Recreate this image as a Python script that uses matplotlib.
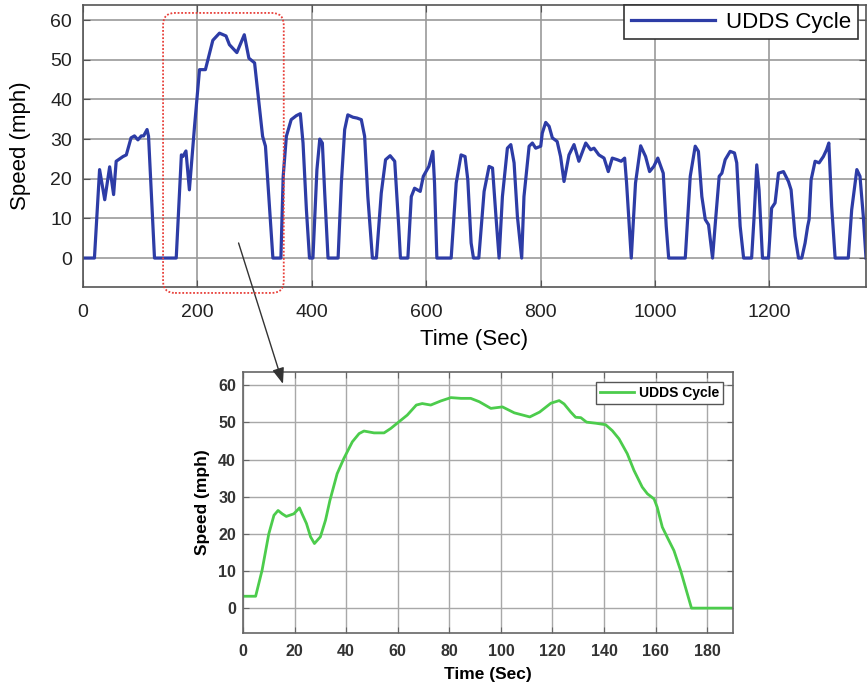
import matplotlib
matplotlib.use('Agg')
import matplotlib.pyplot as plt
from matplotlib.patches import FancyBboxPatch, ConnectionPatch

plt.rcParams['font.family'] = ['Liberation Sans', 'DejaVu Sans']

# full UDDS cycle
cycle_time = [0, 20, 29, 38, 46.6, 53.5, 58, 70, 75.7, 84, 90, 96, 102, 106, 112, 114.6, 125,
              163, 172, 174.6, 180, 186, 195, 203.7, 214, 227, 238.6, 250, 256, 269, 282, 290,
              300, 314, 319, 332, 346, 350, 355.6, 364, 373, 380, 384.7, 390.6, 396, 402, 409,
              414, 418.5, 422.6, 428.4, 446, 451.7, 457.5, 463, 472, 479, 486.6, 492.4, 498,
              506, 513, 521.5, 529, 537, 545, 552, 555, 568, 574, 579.7, 589.6, 595, 604.7,
              611.7, 614.6, 618.7, 643.7, 652.5, 661, 668, 672.8, 678.6, 682.7, 692, 701.3,
              710, 716, 722, 727.5, 733.3, 742, 748, 753.7, 759.5, 767, 771, 780, 785.7, 791.5,
              800.3, 803, 809, 815, 820.6, 829, 835, 841, 849.7, 858.5, 867, 879, 887.6, 893.4,
              902, 911, 918.4, 925.4, 934, 941, 947, 950.4, 958.6, 966, 975, 983.6, 990.6, 998,
              1005, 1014.5, 1019.7, 1024, 1053, 1061.7, 1070.4, 1076, 1082, 1088, 1093.7,
              1100.7, 1106.5, 1112.3, 1117, 1122.8, 1131.5, 1139, 1143, 1149, 1155, 1169,
              1173.4, 1178, 1182, 1188, 1198.5, 1204, 1210, 1216, 1224.7, 1233.4, 1238, 1245,
              1251, 1256.7, 1262.5, 1267, 1269.5, 1273, 1280, 1287, 1294.5, 1300, 1304, 1309,
              1315, 1338, 1344, 1353, 1358.5, 1364.3, 1369]
cycle_speed = [0, 0, 22.3, 14.7, 23, 16, 24.4, 25.6, 26, 30.3, 30.8, 29.8, 30.8, 30.8, 32.4, 30.7, 0,
               0, 26, 25.6, 27, 17.2, 33.2, 47.5, 47.5, 54.9, 56.7, 56, 53.8, 51.8, 56.3, 50.4,
               49.2, 30.7, 28.2, 0, 0, 20.6, 30.7, 34.9, 35.9, 36.4, 29, 12.2, 0, 0, 22.3,
               30, 29, 16.4, 0, 0, 18.9, 32.4, 36.1, 35.5, 35.3, 34.9, 30.7, 15.5,
               0, 0, 16.4, 24.8, 25.8, 24.4, 8, 0, 0, 15.5, 17.6, 16.8, 20.6, 23.1,
               26.9, 18.9, 0, 0, 18.9, 26, 25.6, 19.7, 3.8, 0, 0, 16.8,
               23.1, 22.7, 10.5, 0, 15.5, 27.7, 28.6, 24, 10.5, 0, 15.5, 28.2, 29, 27.7,
               28.2, 31.5, 34.2, 33.2, 30.3, 29.4, 25.6, 19.3, 26, 28.6, 24.4, 29, 27.3, 27.7,
               26, 25.2, 21.8, 25.2, 24.8, 24.4, 25.2, 18.9, 0, 18.9, 28.3, 25.6, 21.8, 23.1,
               25.2, 21.4, 8, 0, 0, 20.6, 28.2, 26.9, 15.5, 9.7, 8.4,
               0, 10.5, 20.6, 21.4, 24.8, 26.9, 26.5, 24, 8, 0, 0,
               10.5, 23.5, 17.2, 0, 0, 12.6, 13.9, 21.4, 21.8, 19.3, 17.2, 5.5,
               0, 0, 3.8, 8, 9.7, 19.7, 24.4, 24, 25.6, 27.3, 29, 13,
               0, 0, 12.2, 22.3, 20.6, 10.5, 0]

# zoomed segment (second hill)
zoom_time = [0, 4.9, 7.4, 10, 12, 13.6, 15.2, 16.8, 19.7, 21.9, 22.9, 24.6, 26.2, 27.7, 30, 32,
             33.7, 36.5, 39.1, 42.4, 45, 46.9, 50.8, 54.7, 57.3, 60.5, 63.7, 67.2, 69.5, 72.8,
             76.7, 80.6, 84.5, 88.3, 91.6, 96.1, 100.6, 105.2, 111.2, 115, 119.4, 122.6,
             124.5, 127.1, 129, 131, 133.2, 136.8, 140.6, 143.2, 145.8, 149, 151.6, 154.8,
             156.8, 159.4, 160.6, 162.6, 164.5, 167.1, 169.7, 171.9, 173.9, 190]
zoom_speed = [3.2, 3.2, 10.2, 20, 25, 26.3, 25.4, 24.7, 25.4, 27, 25.4, 22.8, 19.2, 17.4, 19.2, 23.7,
              29, 36.2, 40.3, 44.8, 47, 47.7, 47.2, 47.2, 48.4, 50.2, 52, 54.7, 55.1, 54.7,
              55.8, 56.7, 56.5, 56.5, 55.6, 53.8, 54.2, 52.6, 51.5, 52.8, 55.2, 55.9,
              55, 52.8, 51.4, 51.3, 50.1, 49.8, 49.4, 47.8, 45.6, 41.6, 37.1, 32.6,
              30.8, 29.4, 27.2, 21.8, 19.1, 15.5, 10.1, 4.8, 0, 0]

W, H = 867, 687
fig = plt.figure(figsize=(W / 100, H / 100), dpi=100)

# top chart
ax1 = fig.add_axes([83 / W, 1 - 287 / H, 783 / W, 282 / H])
ax1.plot(cycle_time, cycle_speed, color='#2d3ca6', lw=2.3, label='UDDS Cycle')
ax1.set_xlim(0, 1369)
ax1.set_ylim(-7.3, 63.8)
ax1.set_xticks(range(0, 1201, 200))
ax1.set_yticks(range(0, 61, 10))
ax1.grid(True, color='#9a9a9a', lw=1.2)
ax1.set_axisbelow(True)
ax1.tick_params(direction='in', top=True, right=True, length=5, labelsize=14,
                labelcolor='#222222', color='#555555')
ax1.tick_params(axis='x', pad=12)
ax1.tick_params(axis='y', pad=8)
for s in ax1.spines.values():
    s.set_color('#555555')
    s.set_linewidth(1.2)
ax1.set_xlabel('Time (Sec)', fontsize=16, labelpad=6)
ax1.set_ylabel('Speed (mph)', fontsize=16, labelpad=14)
leg1 = ax1.legend(loc='upper right', bbox_to_anchor=(1 - 8 / 783, 1.0), borderaxespad=0,
                  fontsize=16, handlelength=3.8, fancybox=False, framealpha=1,
                  borderpad=0.3, handletextpad=0.5)
leg1.get_frame().set_edgecolor('#333333')
leg1.get_frame().set_linewidth(1.2)

# bottom (zoomed) chart
ax2 = fig.add_axes([243 / W, 1 - 633 / H, 490 / W, 261 / H])
ax2.plot(zoom_time, zoom_speed, color='#4ccc4c', lw=2, label='UDDS Cycle')
ax2.set_xlim(0, 190)
ax2.set_ylim(-6.7, 63.6)
ax2.set_xticks(range(0, 181, 20))
ax2.set_yticks(range(0, 61, 10))
ax2.grid(True, color='#a8a8a8', lw=1)
ax2.set_axisbelow(True)
ax2.tick_params(direction='in', top=True, right=True, length=4, labelsize=11.5,
                labelcolor='#333333', color='#666666')
ax2.tick_params(axis='x', pad=8)
ax2.tick_params(axis='y', pad=5)
for lab in ax2.get_xticklabels() + ax2.get_yticklabels():
    lab.set_fontweight('bold')
for s in ax2.spines.values():
    s.set_color('#666666')
    s.set_linewidth(1.2)
ax2.set_xlabel('Time (Sec)', fontsize=12.5, fontweight='bold', labelpad=6)
ax2.set_ylabel('Speed (mph)', fontsize=12.5, fontweight='bold', labelpad=6)
leg2 = ax2.legend(loc='upper right', bbox_to_anchor=(1 - 10 / 490, 1 - 10 / 261), borderaxespad=0,
                  prop={'size': 10, 'weight': 'bold'}, handlelength=2.5, fancybox=False,
                  framealpha=1, borderpad=0.3, handletextpad=0.3)
leg2.get_frame().set_edgecolor('#555555')
leg2.get_frame().set_linewidth(1)

# dotted rounded box marking the zoomed window, drawn in pixel space
ov = fig.add_axes([0, 0, 1, 1], zorder=5)
ov.set_xlim(0, W)
ov.set_ylim(0, H)
ov.axis('off')
ov.patch.set_alpha(0)
(x0, y0) = ax1.transData.transform((140, -8.8))
(x1, y1) = ax1.transData.transform((351, 61.8))
box = FancyBboxPatch((x0, y0), x1 - x0, y1 - y0, boxstyle='round,pad=0,rounding_size=12',
                     fill=False, edgecolor='#e8403a', lw=1.3, ls=(0, (1, 1)))
ov.add_patch(box)

arrow = ConnectionPatch(xyA=(272, 3.8), coordsA=ax1.transData,
                        xyB=(15.5, 60.4), coordsB=ax2.transData,
                        arrowstyle='-|>,head_length=0.8,head_width=0.3',
                        color='#333333', lw=1, mutation_scale=12)
fig.add_artist(arrow)

plt.savefig('out.png', dpi=100)
